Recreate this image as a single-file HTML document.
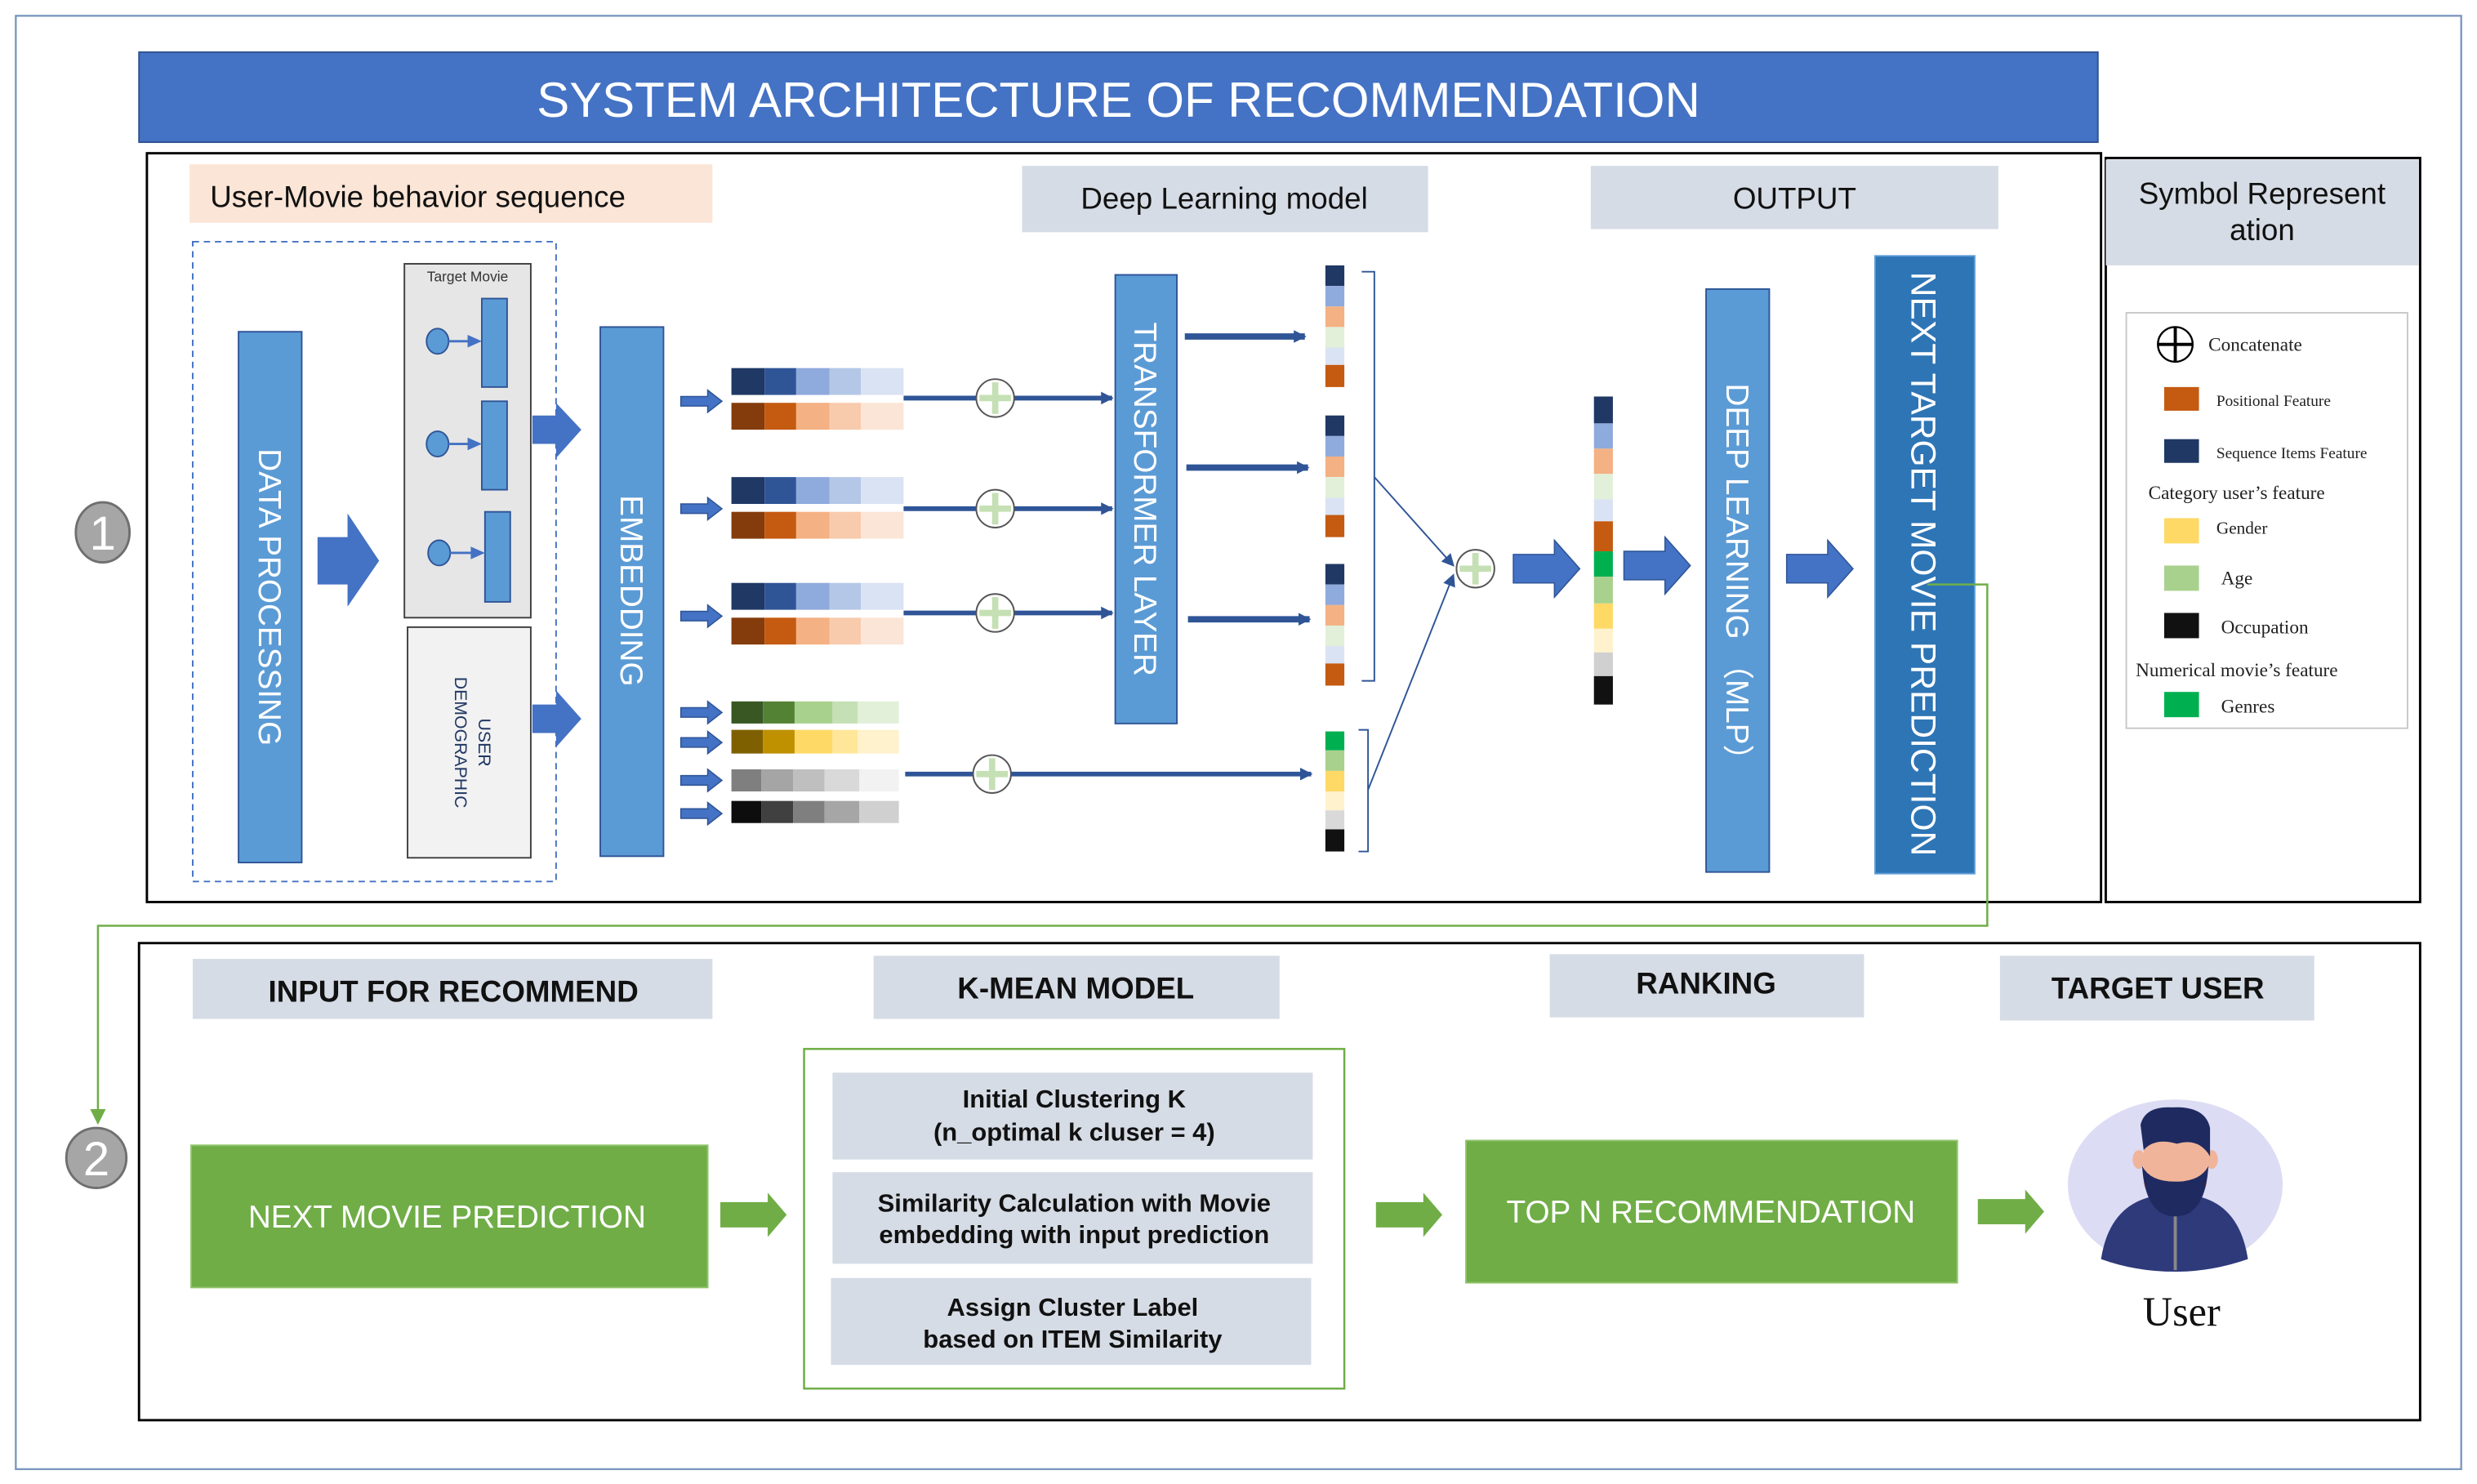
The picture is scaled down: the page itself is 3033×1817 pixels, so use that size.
<!DOCTYPE html>
<html><head><meta charset="utf-8"><style>
html,body{margin:0;padding:0;background:#fff;}
svg{display:block;}
text{font-family:"Liberation Sans",sans-serif;}
.nar{font-family:"Liberation Sans Narrow","Liberation Sans",sans-serif;}
.ser{font-family:"Liberation Serif",serif;}
</style></head><body>
<svg width="3033" height="1817" viewBox="0 0 1568 939.4" preserveAspectRatio="none" xmlns="http://www.w3.org/2000/svg">
<defs>
<marker id="ab" markerWidth="8" markerHeight="8" refX="7" refY="4" orient="auto" markerUnits="userSpaceOnUse"><path d="M0,0 L8,4 L0,8 z" fill="#2f5597"/></marker>
<marker id="ag" markerWidth="10" markerHeight="10" refX="9" refY="5" orient="auto" markerUnits="userSpaceOnUse"><path d="M0,0 L10,5 L0,10 z" fill="#70ad47"/></marker>
<g id="plus"><circle r="12" fill="#fff" stroke="#555" stroke-width="1"/><path d="M-10,0 H10 M0,-10 V10" stroke="#c5e0b4" stroke-width="4"/></g>
<path id="sarr" d="M0,-3 H17 V-7 L26,0 L17,7 V3 H0 z" fill="#4472c4" stroke="#2f5597" stroke-width="0.8"/>
<path id="barr" d="M0,-9 H26 V-18 L42,0 L26,18 V9 H0 z" fill="#4472c4" stroke="#2f5597" stroke-width="0.8"/>
<path id="garr" d="M0,-8 H30 V-14 L42,0 L30,14 V8 H0 z" fill="#70ad47"/>
</defs>
<rect x="0" y="0" width="1568" height="940" fill="#fff"/>
<rect x="10" y="10" width="1548" height="920" fill="none" stroke="#7a96bf" stroke-width="1.2"/>
<!-- title -->
<rect x="88" y="33" width="1240" height="57" fill="#4472c4" stroke="#2f528f"/>
<text x="708" y="74" font-size="31" fill="#fff" text-anchor="middle">SYSTEM ARCHITECTURE OF RECOMMENDATION</text>
<!-- top box -->
<rect x="93" y="97" width="1237" height="474" fill="none" stroke="#000" stroke-width="1.5"/>
<rect x="1333" y="100" width="199" height="471" fill="none" stroke="#000" stroke-width="1.5"/>
<rect x="1333" y="101" width="198" height="67" fill="#d6dce5"/>
<text x="1432" y="129" font-size="19" text-anchor="middle" fill="#111">Symbol Represent</text>
<text x="1432" y="152" font-size="19" text-anchor="middle" fill="#111">ation</text>
<rect x="1346" y="198" width="178" height="263" fill="#fff" stroke="#c8c8c8"/>
<circle cx="1377" cy="218" r="11" fill="#fff" stroke="#000" stroke-width="1.2"/>
<path d="M1366,218 H1388 M1377,207 V229" stroke="#000" stroke-width="2"/>
<g class="ser" fill="#222">
<text x="1398" y="222" font-size="12" class="ser">Concatenate</text>
<rect x="1370" y="245" width="22" height="15" fill="#c55a11"/><text x="1403" y="257" font-size="10" class="ser">Positional Feature</text>
<rect x="1370" y="278" width="22" height="15" fill="#203864"/><text x="1403" y="290" font-size="10" class="ser">Sequence Items Feature</text>
<text x="1360" y="316" font-size="12" class="ser">Category user’s feature</text>
<rect x="1370" y="328" width="22" height="16" fill="#ffd966"/><text x="1403" y="338" font-size="11" class="ser">Gender</text>
<rect x="1370" y="358" width="22" height="16" fill="#a9d18e"/><text x="1406" y="370" font-size="12" class="ser">Age</text>
<rect x="1370" y="388" width="22" height="16" fill="#111"/><text x="1406" y="401" font-size="12" class="ser">Occupation</text>
<text x="1352" y="428" font-size="12" class="ser">Numerical movie’s feature</text>
<rect x="1370" y="438" width="22" height="16" fill="#00b050"/><text x="1406" y="451" font-size="12" class="ser">Genres</text>
</g>
<!-- headers top -->
<rect x="120" y="104" width="331" height="37" fill="#fbe5d6"/>
<text x="133" y="131" font-size="19" fill="#111">User-Movie behavior sequence</text>
<rect x="647" y="105" width="257" height="42" fill="#d6dce5"/>
<text x="775" y="132" font-size="19" text-anchor="middle" fill="#111">Deep Learning model</text>
<rect x="1007" y="105" width="258" height="40" fill="#d6dce5"/>
<text x="1136" y="132" font-size="19" text-anchor="middle" fill="#111">OUTPUT</text>
<!-- dashed box -->
<rect x="122" y="153" width="230" height="405" fill="none" stroke="#4472c4" stroke-width="1" stroke-dasharray="4,3"/>
<!-- data processing -->
<rect x="151" y="210" width="40" height="336" fill="#5b9bd5" stroke="#2f5597"/>
<text transform="translate(164,378) rotate(90)" font-size="20" fill="#fff" text-anchor="middle">DATA PROCESSING</text>
<path d="M201,340 H220 V325 L240,355 L220,384 V370 H201 z" fill="#4472c4"/>
<!-- target movie box -->
<rect x="256" y="167" width="80" height="224" fill="#e7e6e6" stroke="#404040"/>
<text x="296" y="178" font-size="9" text-anchor="middle" fill="#333">Target Movie</text>
<rect x="305" y="189" width="16" height="56" fill="#5b9bd5" stroke="#2f5597"/>
<rect x="305" y="254" width="16" height="56" fill="#5b9bd5" stroke="#2f5597"/>
<rect x="307" y="324" width="16" height="57" fill="#5b9bd5" stroke="#2f5597"/>
<g fill="#5b9bd5" stroke="#2f5597">
<ellipse cx="277" cy="216" rx="7" ry="8"/><ellipse cx="277" cy="281" rx="7" ry="8"/><ellipse cx="278" cy="350" rx="7" ry="8"/>
</g>
<g stroke="#4472c4" stroke-width="1.5"><path d="M284,216 H297 M284,281 H297 M285,350 H299"/></g>
<g fill="#4472c4"><path d="M296,212 L305,216 L296,220 z M296,277 L305,281 L296,285 z M298,346 L307,350 L298,354 z"/></g>
<rect x="258" y="397" width="78" height="146" fill="#f2f2f2" stroke="#404040"/>
<text transform="translate(303,470) rotate(90)" font-size="11" fill="#203864" text-anchor="middle">USER</text>
<text transform="translate(288,470) rotate(90)" font-size="11" fill="#203864" text-anchor="middle">DEMOGRAPHIC</text>
<path d="M337,263 H352 V255 L368,272 L352,290 V281 H337 z" fill="#4472c4"/>
<path d="M337,446 H352 V437 L368,455 L352,473 V464 H337 z" fill="#4472c4"/>
<!-- embedding -->
<rect x="380" y="207" width="40" height="335" fill="#5b9bd5" stroke="#2f5597"/>
<text transform="translate(393,374) rotate(90)" font-size="20" fill="#fff" text-anchor="middle">EMBEDDING</text>
<use href="#sarr" x="431" y="254"/><use href="#sarr" x="431" y="322"/><use href="#sarr" x="431" y="390"/>
<use href="#sarr" x="431" y="451"/><use href="#sarr" x="431" y="470"/><use href="#sarr" x="431" y="494"/><use href="#sarr" x="431" y="515"/>
<!-- color rows -->
<g id="brow"><rect x="463" y="233" width="21" height="17" fill="#1f3864"/><rect x="484" y="233" width="20" height="17" fill="#2f5597"/><rect x="504" y="233" width="21" height="17" fill="#8faadc"/><rect x="525" y="233" width="20" height="17" fill="#b4c7e7"/><rect x="545" y="233" width="27" height="17" fill="#dae3f3"/>
<rect x="463" y="255" width="21" height="17" fill="#843c0c"/><rect x="484" y="255" width="20" height="17" fill="#c55a11"/><rect x="504" y="255" width="21" height="17" fill="#f4b183"/><rect x="525" y="255" width="20" height="17" fill="#f8cbad"/><rect x="545" y="255" width="27" height="17" fill="#fbe5d6"/></g>
<use href="#brow" y="69"/><use href="#brow" y="136"/>
<rect x="463" y="444" width="20" height="14" fill="#385723"/><rect x="483" y="444" width="20" height="14" fill="#548235"/><rect x="503" y="444" width="24" height="14" fill="#a9d18e"/><rect x="527" y="444" width="16" height="14" fill="#c5e0b4"/><rect x="543" y="444" width="26" height="14" fill="#e2f0d9"/>
<rect x="463" y="462" width="20" height="15" fill="#7f6000"/><rect x="483" y="462" width="20" height="15" fill="#bf9000"/><rect x="503" y="462" width="24" height="15" fill="#ffd966"/><rect x="527" y="462" width="16" height="15" fill="#ffe699"/><rect x="543" y="462" width="26" height="15" fill="#fff2cc"/>
<rect x="463" y="487" width="19" height="14" fill="#7f7f7f"/><rect x="482" y="487" width="20" height="14" fill="#a5a5a5"/><rect x="502" y="487" width="20" height="14" fill="#bfbfbf"/><rect x="522" y="487" width="22" height="14" fill="#d9d9d9"/><rect x="544" y="487" width="25" height="14" fill="#f2f2f2"/>
<rect x="463" y="507" width="19" height="14" fill="#0d0d0d"/><rect x="482" y="507" width="20" height="14" fill="#404040"/><rect x="502" y="507" width="20" height="14" fill="#7f7f7f"/><rect x="522" y="507" width="22" height="14" fill="#a6a6a6"/><rect x="544" y="507" width="25" height="14" fill="#d0d0d0"/>
<!-- lines to transformer -->
<g stroke="#2f5597" stroke-width="3" fill="none">
<path d="M572,252 H704" marker-end="url(#ab)"/><path d="M572,322 H704" marker-end="url(#ab)"/><path d="M572,388 H704" marker-end="url(#ab)"/><path d="M573,490 H830" marker-end="url(#ab)"/>
</g>
<use href="#plus" x="630" y="252"/><use href="#plus" x="630" y="322"/><use href="#plus" x="630" y="388"/><use href="#plus" x="628" y="490"/>
<!-- transformer -->
<rect x="706" y="174" width="39" height="284" fill="#5b9bd5" stroke="#2f5597"/>
<text transform="translate(718,316) rotate(90)" font-size="20" fill="#fff" text-anchor="middle">TRANSFORMER LAYER</text>
<g stroke="#2f5597" stroke-width="4" fill="none">
<path d="M750,213 H826" marker-end="url(#ab)"/><path d="M751,296 H828" marker-end="url(#ab)"/><path d="M752,392 H829" marker-end="url(#ab)"/>
</g>
<!-- vector columns -->
<g id="vc"><rect x="839" y="168" width="12" height="13" fill="#203864"/><rect x="839" y="181" width="12" height="13" fill="#8faadc"/><rect x="839" y="194" width="12" height="13" fill="#f4b183"/><rect x="839" y="207" width="12" height="13" fill="#e2f0d9"/><rect x="839" y="220" width="12" height="11" fill="#dae3f3"/><rect x="839" y="231" width="12" height="14" fill="#c55a11"/></g>
<use href="#vc" y="95"/><use href="#vc" y="189"/>
<rect x="839" y="463" width="12" height="12" fill="#00b050"/><rect x="839" y="475" width="12" height="13" fill="#a9d18e"/><rect x="839" y="488" width="12" height="13" fill="#ffd966"/><rect x="839" y="501" width="12" height="12" fill="#fff2cc"/><rect x="839" y="513" width="12" height="12" fill="#d9d9d9"/><rect x="839" y="525" width="12" height="14" fill="#111"/>
<g stroke="#2f5597" stroke-width="1" fill="none">
<path d="M862,172 H870 V431 H862"/><path d="M860,462 H866 V539 H860"/>
<path d="M870,302 L920,358" marker-end="url(#ab)"/><path d="M866,500 L920,364" marker-end="url(#ab)"/>
</g>
<use href="#plus" x="934" y="360"/>
<use href="#barr" x="958" y="360"/><use href="#barr" x="1028" y="358"/><use href="#barr" x="1131" y="360"/>
<!-- output vector -->
<g>
<rect x="1009" y="251" width="12" height="17" fill="#203864"/><rect x="1009" y="268" width="12" height="16" fill="#8faadc"/><rect x="1009" y="284" width="12" height="16" fill="#f4b183"/><rect x="1009" y="300" width="12" height="16" fill="#e2f0d9"/><rect x="1009" y="316" width="12" height="14" fill="#dae3f3"/><rect x="1009" y="330" width="12" height="19" fill="#c55a11"/><rect x="1009" y="349" width="12" height="16" fill="#00b050"/><rect x="1009" y="365" width="12" height="17" fill="#a9d18e"/><rect x="1009" y="382" width="12" height="16" fill="#ffd966"/><rect x="1009" y="398" width="12" height="15" fill="#fff2cc"/><rect x="1009" y="413" width="12" height="15" fill="#d0d0d0"/><rect x="1009" y="428" width="12" height="18" fill="#111"/>
</g>
<rect x="1080" y="183" width="40" height="369" fill="#5b9bd5" stroke="#2f5597"/>
<text transform="translate(1093,367) rotate(90)" font-size="20" fill="#fff" text-anchor="middle">DEEP LEARNING （MLP）</text>
<rect x="1187" y="162" width="63" height="391" fill="#2e75b6" stroke="#5b9bd5"/>
<text transform="translate(1210,357) rotate(90)" font-size="22" fill="#fff" text-anchor="middle">NEXT TARGET MOVIE PREDICTION</text>
<!-- green connector -->
<path d="M1220,370 H1258 V586 H62 V711" fill="none" stroke="#70ad47" stroke-width="1.3" marker-end="url(#ag)"/>
<!-- numbered circles -->
<ellipse cx="65" cy="337" rx="17" ry="19" fill="#a6a6a6" stroke="#6f6f6f" stroke-width="1.5"/>
<text x="65" y="348" font-size="30" fill="#fff" text-anchor="middle">1</text>
<ellipse cx="61" cy="733" rx="19" ry="19" fill="#a6a6a6" stroke="#6f6f6f" stroke-width="1.5"/>
<text x="61" y="744" font-size="30" fill="#fff" text-anchor="middle">2</text>
<!-- bottom box -->
<rect x="88" y="597" width="1444" height="302" fill="none" stroke="#000" stroke-width="1.5"/>
<rect x="122" y="607" width="329" height="38" fill="#d6dce5"/>
<text x="287" y="634" font-size="19" font-weight="bold" text-anchor="middle" fill="#111">INPUT FOR RECOMMEND</text>
<rect x="553" y="605" width="257" height="40" fill="#d6dce5"/>
<text x="681" y="632" font-size="19" font-weight="bold" text-anchor="middle" fill="#111">K-MEAN MODEL</text>
<rect x="981" y="604" width="199" height="40" fill="#d6dce5"/>
<text x="1080" y="629" font-size="19" font-weight="bold" text-anchor="middle" fill="#111">RANKING</text>
<rect x="1266" y="605" width="199" height="41" fill="#d6dce5"/>
<text x="1366" y="632" font-size="19" font-weight="bold" text-anchor="middle" fill="#111">TARGET USER</text>
<rect x="121" y="725" width="327" height="90" fill="#70ad47" stroke="#8fc46a"/>
<text x="283" y="777" font-size="20" fill="#fff" text-anchor="middle">NEXT MOVIE PREDICTION</text>
<use href="#garr" x="456" y="769"/><use href="#garr" x="871" y="769"/><use href="#garr" x="1252" y="767"/>
<rect x="509" y="664" width="342" height="215" fill="#fff" stroke="#70ad47" stroke-width="1.3"/>
<rect x="527" y="679" width="304" height="55" fill="#d6dce5"/>
<text x="680" y="701" font-size="16" font-weight="bold" text-anchor="middle" fill="#111">Initial Clustering K</text>
<text x="680" y="722" font-size="16" font-weight="bold" text-anchor="middle" fill="#111">(n_optimal k cluser = 4)</text>
<rect x="527" y="742" width="304" height="58" fill="#d6dce5"/>
<text x="680" y="767" font-size="16" font-weight="bold" text-anchor="middle" fill="#111">Similarity Calculation  with Movie</text>
<text x="680" y="787" font-size="16" font-weight="bold" text-anchor="middle" fill="#111">embedding with input prediction</text>
<rect x="526" y="809" width="304" height="55" fill="#d6dce5"/>
<text x="679" y="833" font-size="16" font-weight="bold" text-anchor="middle" fill="#111">Assign Cluster Label</text>
<text x="679" y="853" font-size="16" font-weight="bold" text-anchor="middle" fill="#111">based on ITEM  Similarity</text>
<rect x="928" y="722" width="311" height="90" fill="#70ad47" stroke="#8fc46a"/>
<text x="1083" y="774" font-size="20" fill="#fff" text-anchor="middle">TOP N RECOMMENDATION</text>
<!-- user avatar -->
<ellipse cx="1377" cy="750" rx="68" ry="54" fill="#dcdcf5"/>
<path d="M1330,797 Q1335,765 1360,758 L1394,758 Q1418,765 1423,797 Q1400,805 1377,805 Q1352,805 1330,797 z" fill="#2e3a7a"/>
<path d="M1368,757 L1377,770 L1386,757 z" fill="#fff"/>
<rect x="1376" y="768" width="2" height="36" fill="#888"/>
<ellipse cx="1354" cy="734" rx="4" ry="6" fill="#f0b49a"/><ellipse cx="1400" cy="734" rx="4" ry="6" fill="#f0b49a"/>
<rect x="1357" y="718" width="40" height="40" rx="10" fill="#f0b49a"/>
<path d="M1355,712 Q1358,700 1375,701 Q1396,700 1399,714 L1399,732 Q1392,720 1378,724 Q1364,720 1357,728 z" fill="#1f2a60"/>
<path d="M1356,738 Q1358,770 1377,770 Q1396,770 1398,738 Q1393,748 1377,748 Q1361,748 1356,738 z" fill="#1f2a60"/>
<text x="1381" y="839" font-size="26" class="ser" text-anchor="middle" fill="#111">User</text>
</svg>
</body></html>
